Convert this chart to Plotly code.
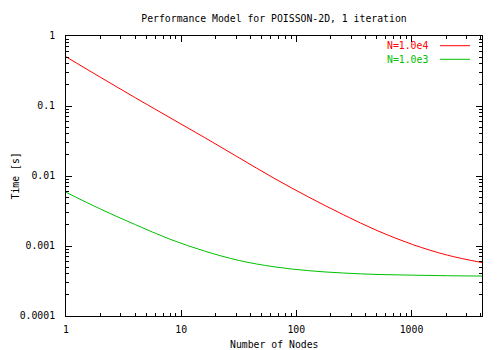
import plotly.graph_objects as go

# Number of nodes (powers of two) and modelled time per iteration [s]
nodes = [1, 2, 4, 8, 16, 32, 64, 128, 256, 512, 1024, 2048, 4096]
time_n1e4 = [0.505, 0.256, 0.131, 0.068, 0.0354, 0.0181, 0.0093, 0.0050,
             0.00280, 0.00164, 0.00105, 0.00074, 0.00058]
time_n1e3 = [0.00585, 0.00336, 0.00202, 0.00125, 0.000845, 0.000620, 0.000505,
             0.000444, 0.000411, 0.000392, 0.000383, 0.000376, 0.000372]

series_names = ["N=1.0e4", "N=1.0e3"]
series_colors = ["#ff0000", "#00c000"]

x_tickvals = [1, 10, 100, 1000]
x_ticktext = ["1", "10", "100", "1000"]
y_tickvals = [0.0001, 0.001, 0.01, 0.1, 1]
y_ticktext = ["0.0001", "0.001", "0.01", "0.1", "1"]

FONT = "DejaVu Sans Mono"
FSIZE = 9.8

fig = go.Figure()
for name, ys, col in zip(series_names, [time_n1e4, time_n1e3], series_colors):
    fig.add_trace(go.Scatter(x=nodes, y=ys, mode="lines", name=name,
                             line=dict(color=col, width=1, shape="spline", smoothing=1.0),
                             showlegend=False))

minor_x = [k * 10 ** e for e in range(0, 4) for k in range(2, 10) if k * 10 ** e <= 4096]
minor_y = [k * 10.0 ** e for e in range(-4, 0) for k in range(2, 10)]

axis_common = dict(showline=True, linecolor="black", linewidth=1, mirror="allticks",
                   ticks="inside", ticklen=6, tickwidth=1, tickcolor="black",
                   showgrid=False, zeroline=False,
                   tickfont=dict(family=FONT, size=FSIZE, color="black"))

fig.update_xaxes(type="log", range=[0, 3.6124], tickmode="array",
                 tickvals=x_tickvals, ticktext=x_ticktext, ticklabelstandoff=4,
                 minor=dict(tickmode="array", tickvals=minor_x, ticks="inside",
                            ticklen=3, tickcolor="black", showgrid=False),
                 **axis_common)
fig.update_yaxes(type="log", range=[-4, 0], tickmode="array",
                 tickvals=y_tickvals, ticktext=y_ticktext, ticklabelstandoff=8,
                 minor=dict(tickmode="array", tickvals=minor_y, ticks="inside",
                            ticklen=3, tickcolor="black", showgrid=False),
                 **axis_common)

annotations = [
    dict(text="Number of Nodes", x=0.5, y=0, xref="paper", yref="paper",
         xanchor="center", yanchor="middle", yshift=-28, showarrow=False,
         font=dict(family=FONT, size=FSIZE, color="black")),
    dict(text="Time [s]", x=0, y=0.5, xref="paper", yref="paper",
         xanchor="center", yanchor="middle", xshift=-51.5, textangle=-90,
         showarrow=False, font=dict(family=FONT, size=FSIZE, color="black")),
]
shapes = []
# key entries: label right-justified, sample line to its right
key_rows = [0.9654, 0.9168]
for name, col, yk in zip(series_names, series_colors, key_rows):
    annotations.append(dict(text=name, x=0.8748, y=yk, xref="paper", yref="paper",
                            xanchor="right", yanchor="middle", showarrow=False,
                            font=dict(family=FONT, size=FSIZE, color=col)))
    shapes.append(dict(type="line", xref="paper", yref="paper", x0=0.8989, x1=0.9711,
                       y0=yk, y1=yk, line=dict(color=col, width=1)))

fig.update_layout(
    width=500, height=350,
    margin=dict(l=66, r=18, t=36, b=34),
    paper_bgcolor="white", plot_bgcolor="white",
    title=dict(text="Performance Model for POISSON-2D, 1 iteration",
               x=0.5, xref="paper", xanchor="center",
               y=1 - 19 / 350, yref="container", yanchor="middle",
               font=dict(family=FONT, size=FSIZE, color="black")),
    annotations=annotations, shapes=shapes,
)

fig.write_html("out.html")
